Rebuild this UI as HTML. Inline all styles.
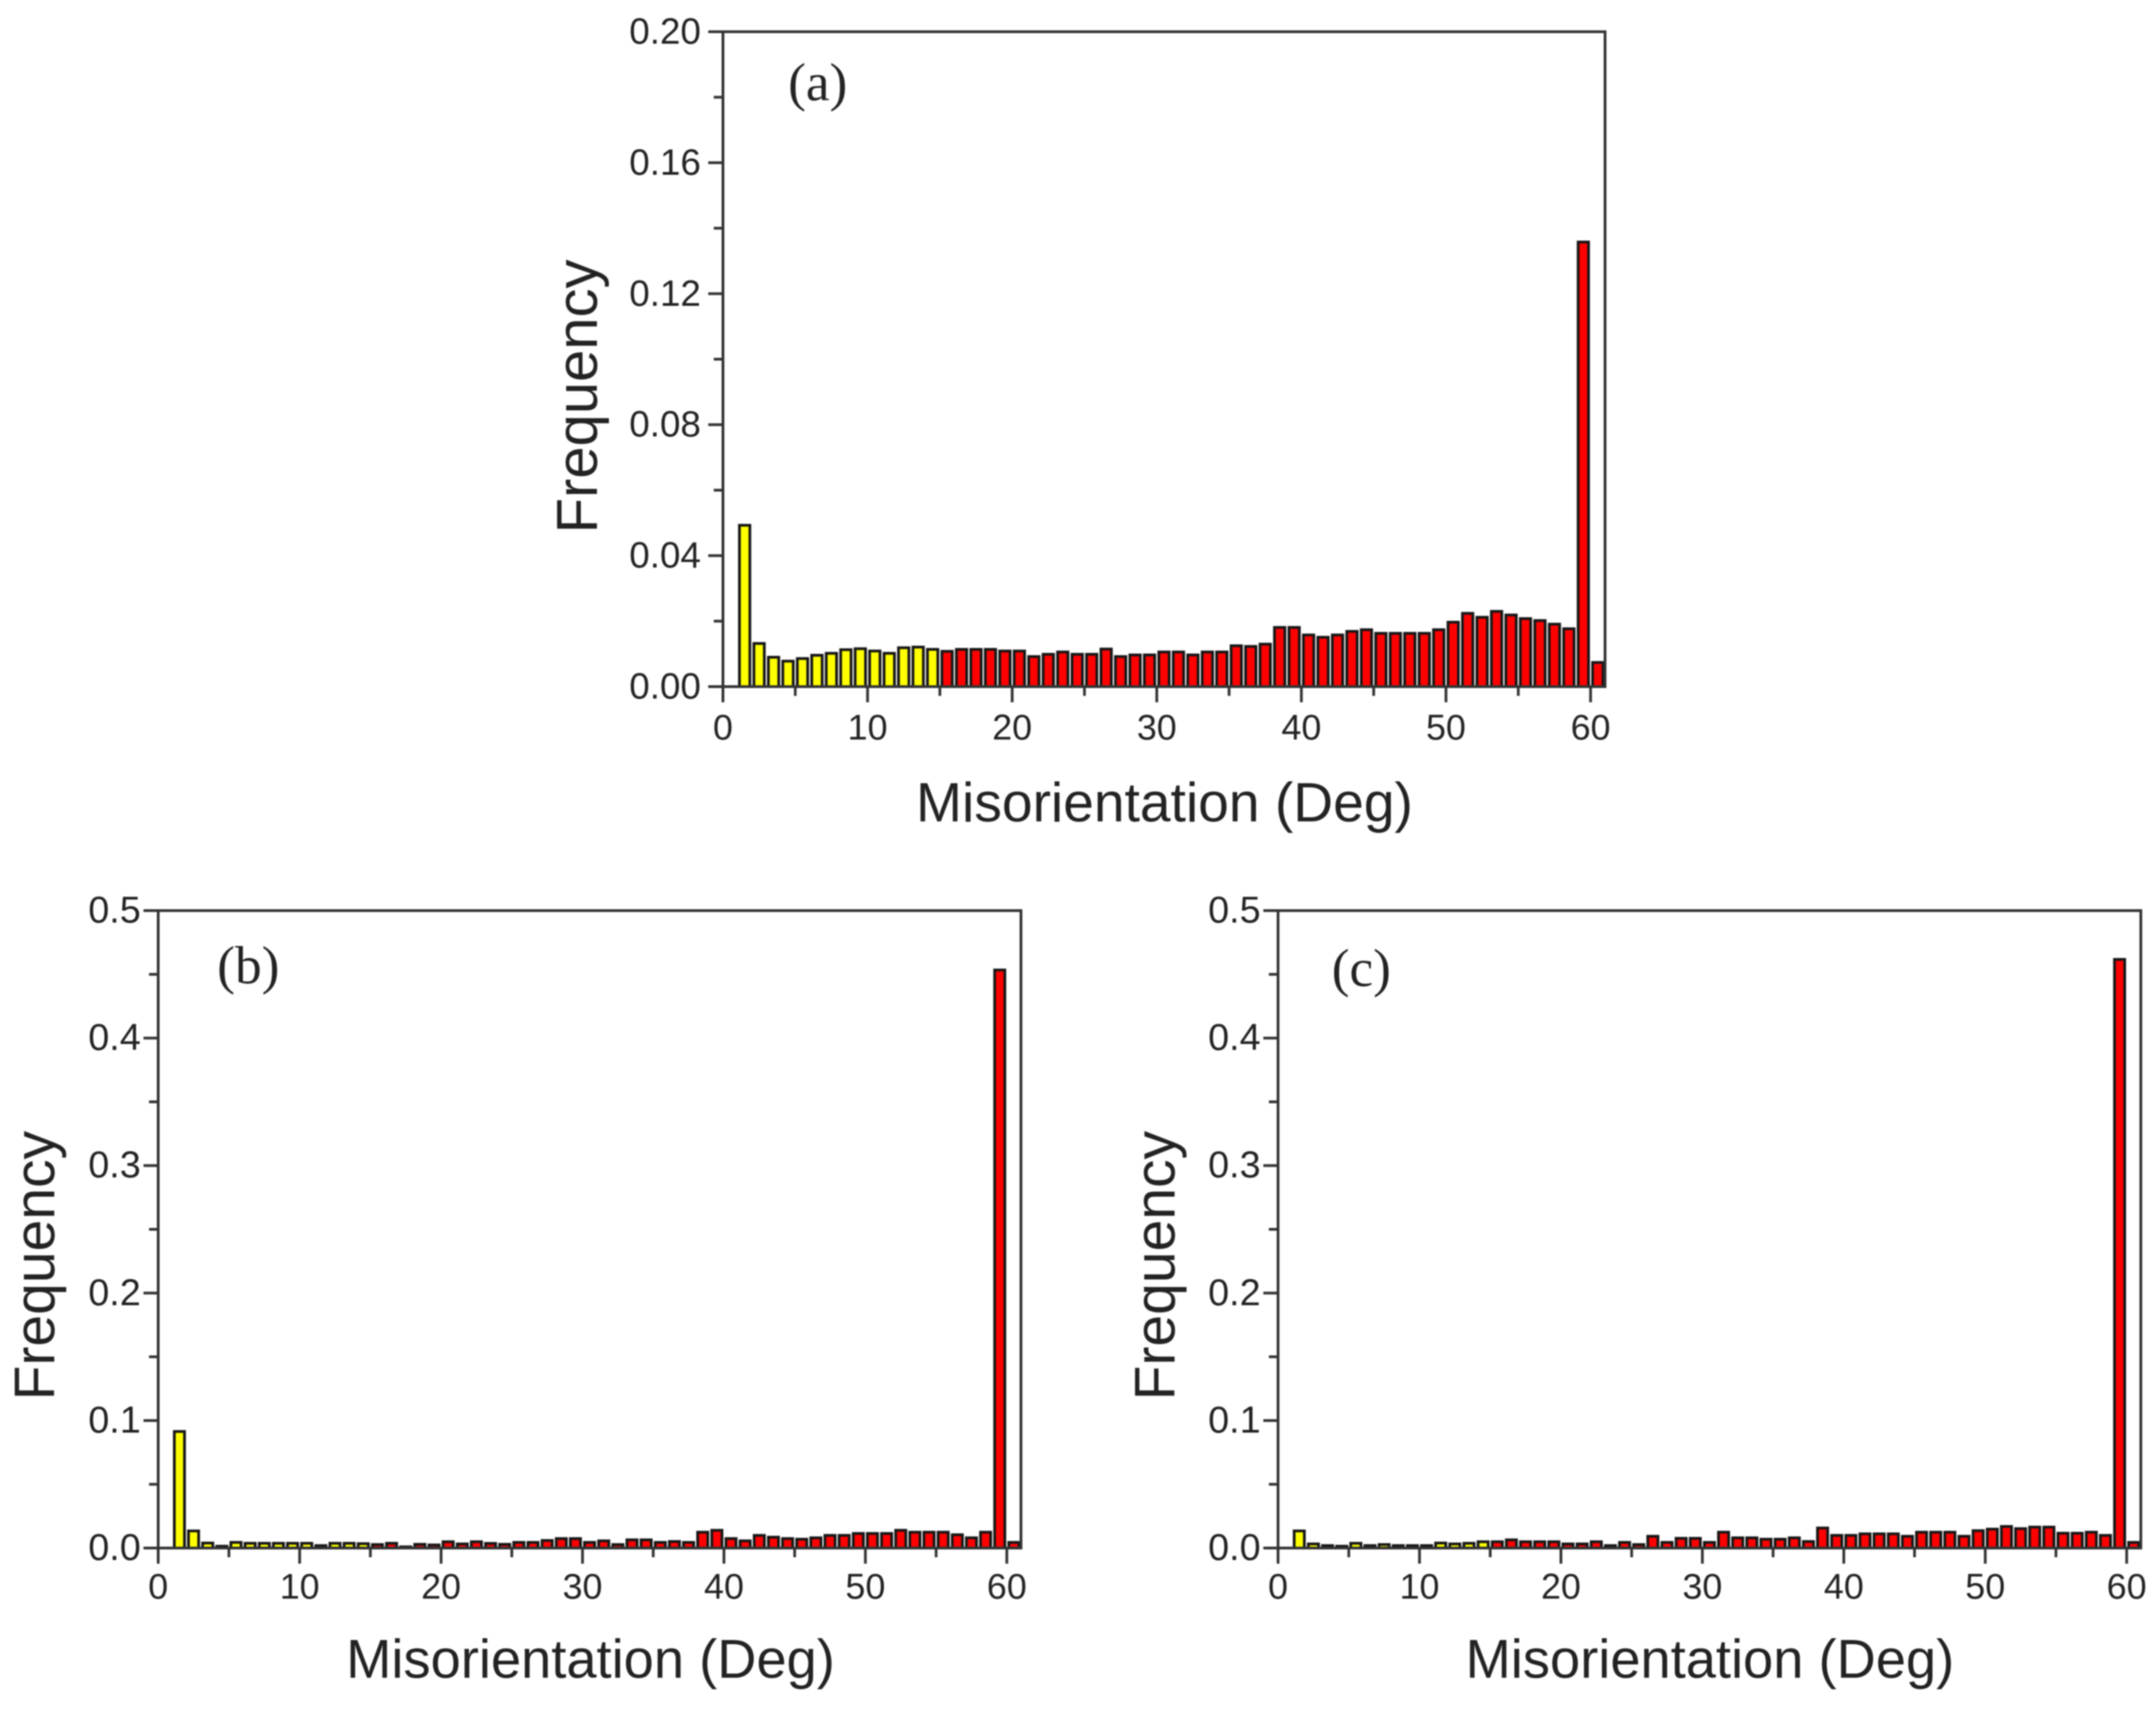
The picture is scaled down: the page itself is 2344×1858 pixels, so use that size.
<!DOCTYPE html>
<html lang="en">
<head>
<meta charset="utf-8">
<title>Misorientation histograms</title>
<style>
html,body{margin:0;padding:0;background:#fff;}
#figure{display:block;width:2344px;height:1858px;filter:blur(0.7px);}
text{font-family:"Liberation Sans",sans-serif;fill:#222;}
.panel-tag{font-family:"Liberation Serif",serif;font-size:58px;fill:#222;}
.title{font-size:60px;}
</style>
</head>
<body>
<svg id="figure" xmlns="http://www.w3.org/2000/svg" width="2344" height="1858" viewBox="0 0 2344 1858">
  <rect width="2344" height="1858" fill="#fff"/>
  <g id="panel-a"></g>
  <g id="panel-b"></g>
  <g id="panel-c"></g>

  <text class="panel-tag" x="889" y="109" text-anchor="middle">(a)</text>
  <text class="panel-tag" x="270" y="1069" text-anchor="middle">(b)</text>
  <text class="panel-tag" x="1480" y="1072" text-anchor="middle">(c)</text>

  <text class="title" x="1266" y="893" text-anchor="middle">Misorientation (Deg)</text>
  <text class="title" x="642" y="1824" text-anchor="middle" style="font-size:59px">Misorientation (Deg)</text>
  <text class="title" x="1859" y="1824" text-anchor="middle" style="font-size:59px">Misorientation (Deg)</text>

  <text class="title" transform="translate(649 431) rotate(-90)" text-anchor="middle" style="font-size:63px">Frequency</text>
  <text class="title" transform="translate(59 1376) rotate(-90)" text-anchor="middle" style="font-size:62px">Frequency</text>
  <text class="title" transform="translate(1277 1376) rotate(-90)" text-anchor="middle" style="font-size:62px">Frequency</text>
</svg>
<script>
const binCenters = [1.5,2.5,3.5,4.5,5.5,6.5,7.5,8.5,9.5,10.5,11.5,12.5,13.5,14.5,15.5,16.5,17.5,18.5,19.5,20.5,21.5,22.5,23.5,24.5,25.5,26.5,27.5,28.5,29.5,30.5,31.5,32.5,33.5,34.5,35.5,36.5,37.5,38.5,39.5,40.5,41.5,42.5,43.5,44.5,45.5,46.5,47.5,48.5,49.5,50.5,51.5,52.5,53.5,54.5,55.5,56.5,57.5,58.5,59.5,60.5];
const lowAngleLimit = 15;

const freqA = [.0497,.0136,.0094,.0082,.009,.01,.0106,.0117,.012,.0113,.0106,.0123,.0125,.0118,.0112,.0118,.0118,.0118,.0113,.0113,.0096,.0103,.011,.0103,.0103,.0119,.0096,.0101,.0101,.011,.011,.0101,.011,.011,.0129,.0127,.0134,.0185,.0185,.0162,.0155,.0162,.0173,.0178,.0167,.0167,.0167,.0167,.0178,.0201,.0228,.0216,.0234,.0223,.0212,.0206,.0195,.0181,.1362,.0078];
const freqB = [.0925,.0145,.005,.0025,.0055,.0048,.0048,.0048,.0048,.0048,.003,.0048,.0048,.0045,.0038,.0048,.002,.004,.0035,.006,.0043,.006,.0047,.004,.0055,.0055,.007,.0085,.0085,.0055,.0067,.0038,.0075,.0075,.0055,.0062,.0055,.0135,.015,.0085,.0067,.011,.0096,.0085,.008,.0091,.011,.011,.0125,.0125,.0125,.015,.0135,.0135,.0135,.0115,.0091,.0135,.4545,.0055];
const freqC = [.0145,.0043,.003,.0025,.0048,.003,.0038,.003,.003,.003,.005,.0043,.0048,.006,.006,.0075,.006,.006,.006,.0043,.0043,.006,.003,.0055,.0038,.0103,.0055,.0087,.0087,.0055,.0135,.0091,.0091,.008,.008,.0091,.0062,.0168,.011,.011,.0122,.0122,.0122,.0103,.0135,.0135,.0135,.0103,.0147,.0159,.018,.0163,.0175,.0175,.0127,.0127,.0135,.011,.4628,.0055];

const xTickValues = [0,5,10,15,20,25,30,35,40,45,50,55,60];
const xTickLabels = ["0",null,"10",null,"20",null,"30",null,"40",null,"50",null,"60"];
const yTickValuesA = [0,.02,.04,.06,.08,.10,.12,.14,.16,.18,.20];
const yTickLabelsA = ["0.00",null,"0.04",null,"0.08",null,"0.12",null,"0.16",null,"0.20"];
const yTickValuesBC = [0,.05,.1,.15,.2,.25,.3,.35,.4,.45,.5];
const yTickLabelsBC = ["0.0",null,"0.1",null,"0.2",null,"0.3",null,"0.4",null,"0.5"];

const NS = "http://www.w3.org/2000/svg";
const AXIS_COLOR = "#333333";
const BAR_STROKE = 3;
const BAR_FRACTION = 0.72;

function makeEl(tag, parent, attrs) {
  const el = document.createElementNS(NS, tag);
  for (const k in attrs) el.setAttribute(k, attrs[k]);
  parent.appendChild(el);
  return el;
}

function drawPanel(id, freq, yTicks, yLabels, frame, yMax) {
  const g = document.getElementById(id);
  const xScale = v => frame.left + (v / 61) * (frame.right - frame.left);
  const yScale = v => frame.bottom - (v / yMax) * (frame.bottom - frame.top);

  binCenters.forEach((c, i) => {
    const w = xScale(BAR_FRACTION) - xScale(0);
    const top = yScale(freq[i]) + BAR_STROKE / 2;
    const bar = makeEl("rect", g, {
      x: xScale(c) - w / 2,
      y: top,
      width: w,
      height: Math.max(0, frame.bottom - top),
      fill: c < lowAngleLimit ? "#ffff00" : "#ff0000",
      stroke: "#161616",
      "stroke-width": BAR_STROKE
    });
    
    
  });

  const border = makeEl("rect", g, {
    x: frame.left, y: frame.top,
    width: frame.right - frame.left, height: frame.bottom - frame.top,
    fill: "none", stroke: AXIS_COLOR, "stroke-width": 3
  });
  
  

  xTickValues.forEach((v, i) => {
    const major = xTickLabels[i] !== null;
    const tick = makeEl("line", g, {
      x1: xScale(v), x2: xScale(v),
      y1: frame.bottom, y2: frame.bottom + (major ? 17 : 10),
      stroke: AXIS_COLOR, "stroke-width": 3
    });
    
    
    if (major) {
      const label = makeEl("text", g, {
        x: xScale(v), y: frame.labelBaseline,
        "text-anchor": "middle", "font-size": 39
      });
      label.textContent = xTickLabels[i];
      
      
    }
  });

  yTicks.forEach((v, i) => {
    const major = yLabels[i] !== null;
    const tick = makeEl("line", g, {
      x1: frame.left - (major ? 16 : 10), x2: frame.left,
      y1: yScale(v), y2: yScale(v),
      stroke: AXIS_COLOR, "stroke-width": 3
    });
    
    
    if (major) {
      const label = makeEl("text", g, {
        x: frame.left - frame.labelGap, y: yScale(v) + 13,
        "text-anchor": "end", "font-size": frame.labelSize
      });
      label.textContent = yLabels[i];
      
      
    }
  });
}

drawPanel("panel-a", freqA, yTickValuesA, yTickLabelsA, {left:786, right:1745, top:34.5, bottom:746.5, labelBaseline:804, labelGap:24, labelSize:40}, 0.20);
drawPanel("panel-b", freqB, yTickValuesBC, yTickLabelsBC, {left:172, right:1110, top:990, bottom:1683, labelBaseline:1738, labelGap:19, labelSize:41}, 0.5);
drawPanel("panel-c", freqC, yTickValuesBC, yTickLabelsBC, {left:1389.5, right:2327.5, top:990, bottom:1683, labelBaseline:1738, labelGap:19, labelSize:41}, 0.5);
</script>
</body>
</html>
